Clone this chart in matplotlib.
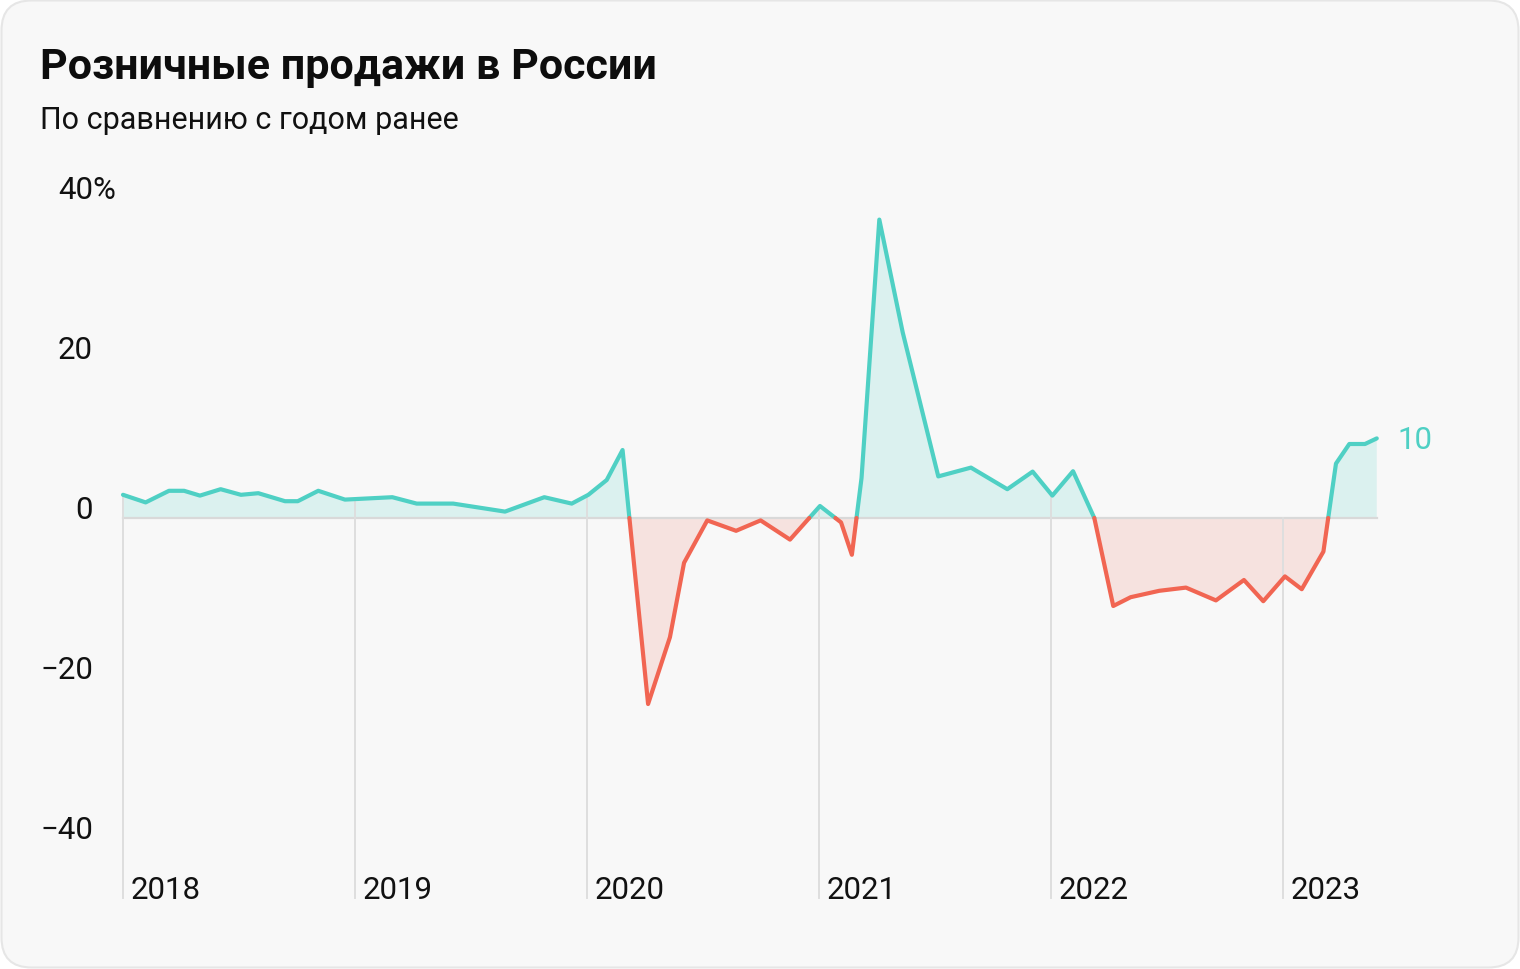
import numpy as np
import matplotlib
matplotlib.use('Agg')
import matplotlib.pyplot as plt
import matplotlib.patches as mpatches
import matplotlib.transforms as mtransforms

plt.rcParams['font.family'] = ['Roboto', 'DejaVu Sans']

# месяцы от января 2018 (точки на графике стоят неравномерно)
months = [0.0, 1.17, 2.38, 3.16, 3.98, 5.05, 6.10, 7.0, 8.38, 9.04, 10.1, 11.48,
          13.93, 15.19, 17.08, 19.76, 21.79, 23.21, 24.07, 25.02, 25.84,
          27.16, 28.29, 29.02, 30.22, 31.71, 32.98, 34.5, 36.05, 37.14, 37.7, 38.2,
          39.12, 40.33, 42.17, 43.86, 45.74, 47.05, 48.07, 49.14, 50.24,
          51.22, 52.12, 53.6, 54.98, 56.53, 57.98, 58.98, 60.1, 60.97, 62.09,
          62.74, 63.43, 64.24, 64.85]
# розничные продажи, % г/г
sales = [2.9, 1.95, 3.4, 3.4, 2.8, 3.6, 2.9, 3.1, 2.1, 2.1, 3.4, 2.3,
         2.6, 1.8, 1.8, 0.8, 2.6, 1.8, 2.9, 4.75, 8.5,
         -23.25, -14.9, -5.6, -0.3, -1.6, -0.3, -2.7, 1.5, -0.55, -4.6, 5.0,
         37.3, 23.2, 5.2, 6.3, 3.6, 5.8, 2.8, 5.85, 0.0,
         -11.0, -9.9, -9.1, -8.7, -10.3, -7.75, -10.4, -7.3, -8.9, -4.2,
         6.8, 9.25, 9.25, 9.95]
years = [2018, 2019, 2020, 2021, 2022, 2023]
y_ticks = [40, 20, 0, -20, -40]
last_label = '10'

TEAL = '#4fd0c4'
RED = '#f16552'


def add_zero_crossings(x, y):
    # вставляем точки пересечения нуля, чтобы цвет менялся ровно на нуле
    xs, ys = [x[0]], [y[0]]
    for i in range(1, len(x)):
        if y[i - 1] * y[i] < 0:
            x0 = x[i - 1] + (x[i] - x[i - 1]) * y[i - 1] / (y[i - 1] - y[i])
            xs.append(x0)
            ys.append(0.0)
        xs.append(x[i])
        ys.append(y[i])
    return np.array(xs), np.array(ys)


def main():
    t = 2018 + np.array(months) / 12
    y = np.array(sales)
    xs, ys = add_zero_crossings(t, y)

    fig = plt.figure(figsize=(15.2, 9.7), dpi=100, facecolor='white')

    # карточка с закруглёнными углами
    card = mpatches.FancyBboxPatch((1.5, 1.5), 1517, 967,
                                   boxstyle='round,pad=0,rounding_size=30',
                                   transform=mtransforms.IdentityTransform(),
                                   facecolor='#f8f8f8', edgecolor='#e6e6e6', lw=1.5,
                                   zorder=-10)
    fig.add_artist(card)

    ax = fig.add_axes([0, 0, 1, 1])
    ax.set_facecolor('none')
    ax.set_xlim(2018 - 123 / 232, 2018 + (1520 - 123) / 232)
    ax.set_ylim(-(970 - 519) / 8, 519 / 8)
    ax.axis('off')

    # заливка
    ax.fill_between(xs, ys, 0, where=ys >= 0, color=TEAL, alpha=0.17, lw=0, zorder=1)
    ax.fill_between(xs, ys, 0, where=ys <= 0, color=RED, alpha=0.15, lw=0, zorder=1)

    # нулевая линия
    ax.plot([t[0], t[-1]], [0, 0], color='#d9d9d9', lw=1.6, zorder=2)

    # вертикальные линии по годам
    for yr in years:
        top = max(np.interp(yr, t, y), 0)
        ax.plot([yr, yr], [-47.5, top], color='#dedede', lw=1.4, zorder=2)

    # линия: зелёная выше нуля, красная ниже
    ax.plot(xs, np.ma.masked_less(ys, 0), color=TEAL, lw=3.0, zorder=3,
            solid_capstyle='round')
    ax.plot(xs, np.ma.masked_greater(ys, 0), color=RED, lw=3.0, zorder=3,
            solid_capstyle='round')

    # подписи оси Y
    ytrans = ax.get_yaxis_transform()
    for v in y_ticks:
        lbl = str(v).replace('-', '\u2212')
        ax.text(93 / 1520, v, lbl, transform=ytrans, ha='right', va='baseline',
                fontsize=22.5, color='#111111')
        if v == y_ticks[0]:
            ax.text(92 / 1520, v, '%', transform=ytrans, ha='left', va='baseline',
                    fontsize=22.5, color='#111111')

    # подписи годов
    year_trans = mtransforms.offset_copy(ax.transData, fig=fig, x=8, y=0, units='dots')
    for yr in years:
        ax.text(yr, -47.5, str(yr), transform=year_trans, ha='left', va='baseline',
                fontsize=22.5, color='#111111')

    # последнее значение
    ax.annotate(last_label, (t[-1], y[-1]), xytext=(21, -1), textcoords='offset pixels',
                ha='left', va='center', fontsize=22.5, color=TEAL)

    fig.text(40 / 1520, 1 - 79 / 970, 'Розничные продажи в России',
             fontsize=31, fontweight='bold', color='#0d0d0d', va='baseline')
    fig.text(40 / 1520, 1 - 129 / 970, 'По сравнению с годом ранее',
             fontsize=22, color='#111111', va='baseline')

    fig.savefig('out.png', dpi=100)


if __name__ == '__main__':
    main()
